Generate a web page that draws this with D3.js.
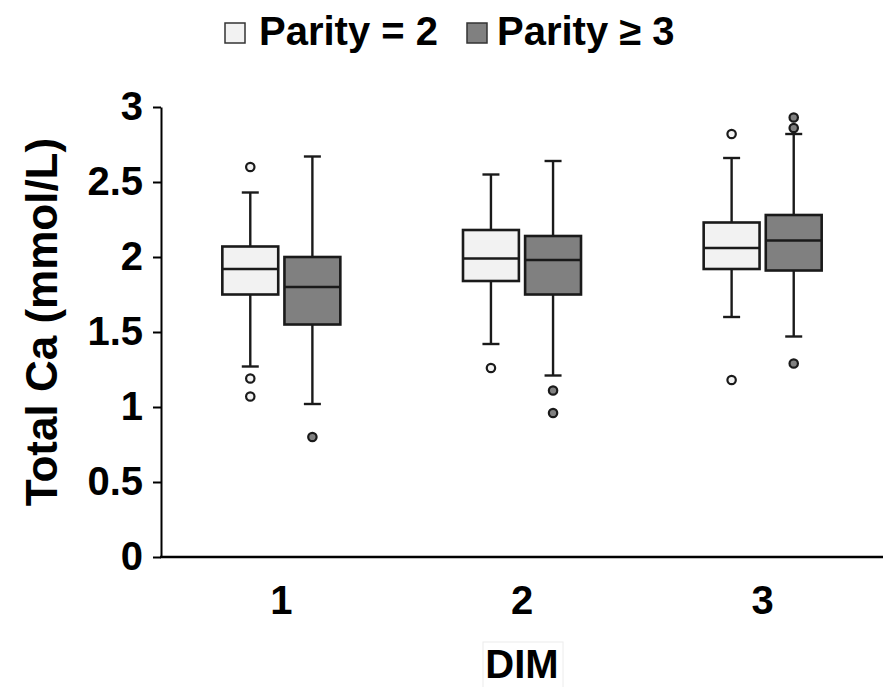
<!DOCTYPE html>
<html>
<head>
<meta charset="utf-8">
<script src="https://cdn.jsdelivr.net/npm/d3@7"></script>
<style>
  html, body { margin: 0; padding: 0; background: #fff; }
  svg { display: block; }
  text { font-family: "Liberation Sans", Arial, Helvetica, sans-serif; font-weight: bold; }
</style>
</head>
<body>
<svg id="chart" width="883" height="687"></svg>
<script>
// ---- Data ----
const categories = ["1", "2", "3"];
const series = ["Parity = 2", "Parity \u2265 3"];
const seriesFill = ["#f2f2f2", "#808080"];

// per series, per DIM category
const whiskerLow  = [[1.27, 1.42, 1.60], [1.02, 1.21, 1.47]];
const q1          = [[1.75, 1.84, 1.92], [1.55, 1.75, 1.91]];
const median      = [[1.92, 1.99, 2.06], [1.80, 1.98, 2.11]];
const q3          = [[2.07, 2.18, 2.23], [2.00, 2.14, 2.28]];
const whiskerHigh = [[2.43, 2.55, 2.66], [2.67, 2.64, 2.82]];
const outliers    = [
  [[2.60, 1.19, 1.07], [1.26], [2.82, 1.18]],
  [[0.80], [1.11, 0.96], [2.93, 2.86, 1.29]]
];

const yTicks = [0, 0.5, 1, 1.5, 2, 2.5, 3];
const yTickLabels = ["0", "0.5", "1", "1.5", "2", "2.5", "3"];
const yTitle = "Total Ca (mmol/L)";
const xTitle = "DIM";

// ---- Layout ----
const svg = d3.select("#chart");
const axisX = 161, axisBottom = 557, axisTop = 107, axisRight = 883;

const x = d3.scaleBand().domain(categories).range([axisX, axisRight]);
const xSub = d3.scaleBand().domain(series).range([-59, 59]).paddingInner(0.1);
const y = d3.scaleLinear().domain([0, 3]).range([axisBottom, axisTop]);

const stroke = "#1a1a1a";

// Y axis
const yAxis = d3.axisLeft(y)
  .tickValues(yTicks)
  .tickFormat((d, i) => yTickLabels[i])
  .tickSize(8)
  .tickSizeOuter(0)
  .tickPadding(10);
const gy = svg.append("g").attr("transform", `translate(${axisX},0)`).call(yAxis);
gy.select(".domain").attr("stroke", "#000").attr("stroke-width", 2);
gy.selectAll(".tick line").attr("stroke", "#000").attr("stroke-width", 2);
gy.selectAll(".tick text").attr("font-size", 40).attr("fill", "#000")
  .attr("font-family", "'Liberation Sans', Arial, sans-serif").attr("font-weight", "bold");

// X axis
const xAxis = d3.axisBottom(x).tickSize(0).tickSizeOuter(0).tickPadding(0);
const gx = svg.append("g").attr("transform", `translate(0,${axisBottom})`).call(xAxis);
gx.select(".domain").attr("stroke", "#000").attr("stroke-width", 2.5)
  .attr("d", `M${axisX - 1},0H${axisRight}`);
gx.selectAll(".tick text").attr("font-size", 40).attr("fill", "#000")
  .attr("font-family", "'Liberation Sans', Arial, sans-serif").attr("font-weight", "bold")
  .attr("dy", null).attr("y", 57);

// Boxes
series.forEach((s, si) => {
  categories.forEach((c, ci) => {
    const cx = x(c) + x.bandwidth() / 2 + xSub(s) + xSub.bandwidth() / 2;
    const bw = xSub.bandwidth();
    const g = svg.append("g");
    const capW = 17;
    // whiskers
    g.append("line").attr("x1", cx).attr("x2", cx)
      .attr("y1", y(whiskerHigh[si][ci])).attr("y2", y(q3[si][ci]))
      .attr("stroke", stroke).attr("stroke-width", 2.4);
    g.append("line").attr("x1", cx).attr("x2", cx)
      .attr("y1", y(q1[si][ci])).attr("y2", y(whiskerLow[si][ci]))
      .attr("stroke", stroke).attr("stroke-width", 2.4);
    g.append("line").attr("x1", cx - capW / 2).attr("x2", cx + capW / 2)
      .attr("y1", y(whiskerHigh[si][ci])).attr("y2", y(whiskerHigh[si][ci]))
      .attr("stroke", stroke).attr("stroke-width", 2.4);
    g.append("line").attr("x1", cx - capW / 2).attr("x2", cx + capW / 2)
      .attr("y1", y(whiskerLow[si][ci])).attr("y2", y(whiskerLow[si][ci]))
      .attr("stroke", stroke).attr("stroke-width", 2.4);
    // box
    g.append("rect").attr("x", cx - bw / 2).attr("width", bw)
      .attr("y", y(q3[si][ci])).attr("height", y(q1[si][ci]) - y(q3[si][ci]))
      .attr("fill", seriesFill[si]).attr("stroke", stroke).attr("stroke-width", 2.6);
    // median
    g.append("line").attr("x1", cx - bw / 2).attr("x2", cx + bw / 2)
      .attr("y1", y(median[si][ci])).attr("y2", y(median[si][ci]))
      .attr("stroke", stroke).attr("stroke-width", 2.6);
    // outliers
    g.selectAll("circle.o").data(outliers[si][ci]).join("circle")
      .attr("class", "o")
      .attr("cx", cx).attr("cy", d => y(d)).attr("r", 4.2)
      .attr("fill", seriesFill[si]).attr("stroke", stroke).attr("stroke-width", 2.2);
  });
});

// Y title
svg.append("text")
  .attr("transform", `translate(57,${(axisTop + axisBottom) / 2 - 10}) rotate(-90)`)
  .attr("text-anchor", "middle")
  .attr("font-size", 44).attr("fill", "#000")
  .text(yTitle);

// X title with faint frame
svg.append("rect")
  .attr("x", 483).attr("y", 642).attr("width", 80).attr("height", 50)
  .attr("fill", "none").attr("stroke", "#ececec").attr("stroke-width", 1);
svg.append("text")
  .attr("x", x("2") + x.bandwidth() / 2).attr("y", 678)
  .attr("text-anchor", "middle")
  .attr("font-size", 40).attr("fill", "#000")
  .text(xTitle);

// Legend
const legendItems = [
  { sx: 225, tx: 259 },
  { sx: 467, tx: 497 }
];
series.forEach((s, si) => {
  svg.append("rect")
    .attr("x", legendItems[si].sx).attr("y", 23).attr("width", 20).attr("height", 20)
    .attr("fill", seriesFill[si]).attr("stroke", "#333").attr("stroke-width", 1.5);
  svg.append("text")
    .attr("x", legendItems[si].tx).attr("y", 45)
    .attr("font-size", 40).attr("fill", "#000")
    .text(s);
});
</script>
</body>
</html>
